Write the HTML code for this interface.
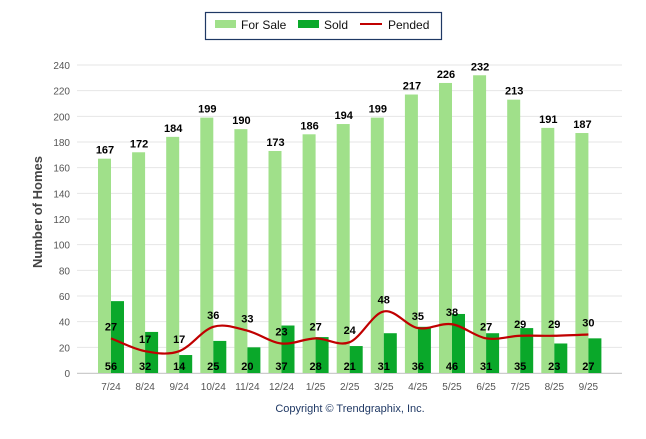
<!DOCTYPE html>
<html><head><meta charset="utf-8"><style>
body{margin:0;background:#fff;font-family:"Liberation Sans",sans-serif}
svg text{font-family:"Liberation Sans",sans-serif}
</style></head><body>
<svg width="646" height="434" xmlns="http://www.w3.org/2000/svg">
<g>
<rect x="205.5" y="12.5" width="236" height="27" fill="#fff" stroke="#1f3864" stroke-width="1.2"/>
<rect x="215" y="20" width="21" height="8" fill="#a0e08a"/>
<text x="241" y="29" font-size="12" fill="#111">For Sale</text>
<rect x="298" y="20" width="21" height="8" fill="#0aa82a"/>
<text x="324" y="29" font-size="12" fill="#111">Sold</text>
<line x1="360" y1="24" x2="382" y2="24" stroke="#c00000" stroke-width="2"/>
<text x="388" y="29" font-size="12" fill="#111">Pended</text>
</g>
<g id="grid"></g>
<g id="bars"></g>
<g id="line"></g>
<g id="labels"></g>
<text transform="translate(42,212) rotate(-90)" text-anchor="middle" font-size="13" font-weight="bold" fill="#444">Number of Homes</text>
<text x="350" y="412" text-anchor="middle" font-size="11" fill="#1f3864">Copyright © Trendgraphix, Inc.</text>
</svg>
<script>
const categories=["7/24","8/24","9/24","10/24","11/24","12/24","1/25","2/25","3/25","4/25","5/25","6/25","7/25","8/25","9/25"];
const forSale=[167,172,184,199,190,173,186,194,199,217,226,232,213,191,187];
const sold=[56,32,14,25,20,37,28,21,31,36,46,31,35,23,27];
const pended=[27,17,17,36,33,23,27,24,48,35,38,27,29,29,30];
const yTicks=[0,20,40,60,80,100,120,140,160,180,200,220,240];
const NS="http://www.w3.org/2000/svg";
const y=v=>373-v*(308/240);
const x=i=>111+i*34.1;
function mk(t,a,p){const e=document.createElementNS(NS,t);for(const k in a)e.setAttribute(k,a[k]);(p||document.getElementById('bars')).appendChild(e);return e;}
const grid=document.getElementById('grid');
yTicks.forEach(v=>{
 const l=mk('line',{x1:77,x2:622,y1:y(v),y2:y(v),stroke:'#e6e6e6','stroke-width':1},grid);
 
 
 const t=mk('text',{x:70,y:y(v)+4,'text-anchor':'end','font-size':10,fill:'#555'},grid);t.textContent=v;
 
 
});
mk('line',{x1:77,x2:622,y1:373.5,y2:373.5,stroke:'#ccc'},grid);
const lab=document.getElementById('labels');
categories.forEach((c,i)=>{
 const b1=mk('rect',{x:x(i)-13,y:y(forSale[i]),width:13,height:373-y(forSale[i]),fill:'#a0e08a'});
 
 
 const b2=mk('rect',{x:x(i),y:y(sold[i]),width:13,height:373-y(sold[i]),fill:'#0aa82a'});
 
 
 const t=mk('text',{x:x(i),y:390,'text-anchor':'middle','font-size':10,fill:'#555'},grid);t.textContent=c;
 
 
 const f=mk('text',{x:x(i)-6,y:y(forSale[i])-5,'text-anchor':'middle','font-size':11,'font-weight':'bold',fill:'#000'},lab);f.textContent=forSale[i];
 
 
 const s=mk('text',{x:x(i),y:370,'text-anchor':'middle','font-size':11,'font-weight':'bold',fill:'#000'},lab);s.textContent=sold[i];
 
 
 const p=mk('text',{x:x(i),y:y(pended[i])-8,'text-anchor':'middle','font-size':11,'font-weight':'bold',fill:'#000'},lab);p.textContent=pended[i];
 
 
});
const pts=pended.map((v,i)=>[x(i),y(v)]);
let d='M'+pts[0][0]+','+pts[0][1];
for(let i=0;i<pts.length-1;i++){
 const p0=pts[Math.max(0,i-1)],p1=pts[i],p2=pts[i+1],p3=pts[Math.min(pts.length-1,i+2)];
 const c1=[p1[0]+(p2[0]-p0[0])/6,p1[1]+(p2[1]-p0[1])/6],c2=[p2[0]-(p3[0]-p1[0])/6,p2[1]-(p3[1]-p1[1])/6];
 d+=` C${c1[0]},${c1[1]} ${c2[0]},${c2[1]} ${p2[0]},${p2[1]}`;
}
const ln=mk('path',{d:d,fill:'none',stroke:'#c00000','stroke-width':2.2},document.getElementById('line'));


</script>
</body></html>
